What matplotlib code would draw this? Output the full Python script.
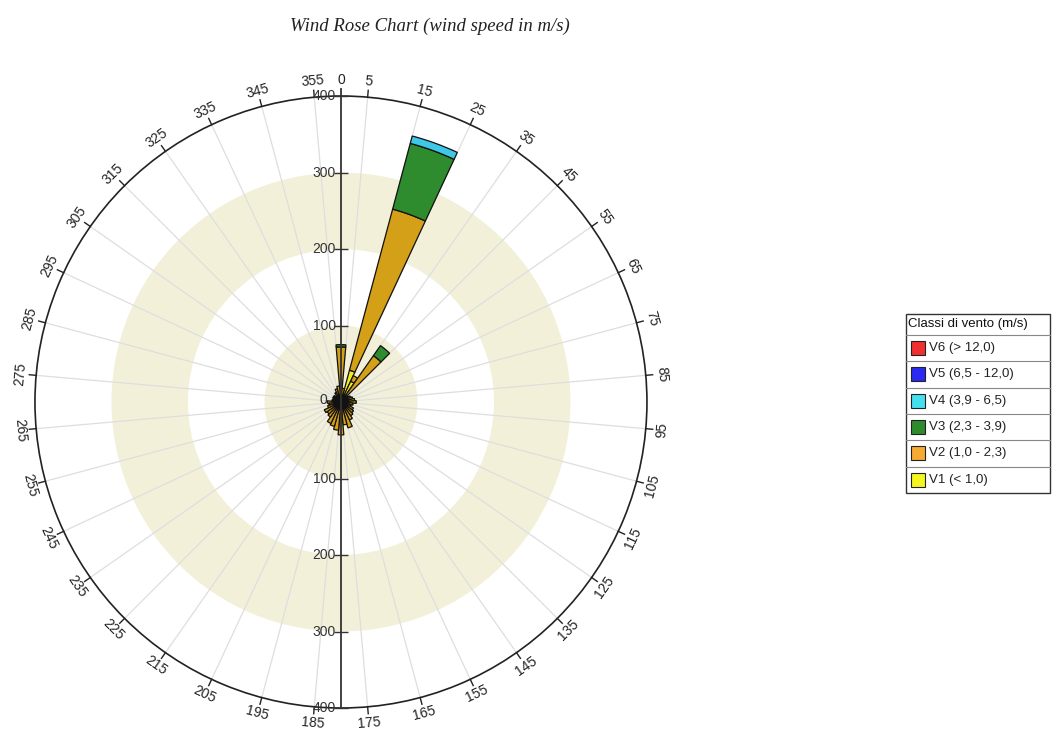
import numpy as np
import matplotlib
matplotlib.use("Agg")
import matplotlib.pyplot as plt
from matplotlib.patches import Rectangle
from matplotlib.transforms import offset_copy

# direction sectors (deg, clockwise from north), 10 deg wide
directions = list(range(0, 360, 10))

# frequency per speed class, one value per direction
v1 = [8, 6, 43, 30, 8, 4, 4, 4, 4, 4, 4, 4, 4, 4, 4, 4, 5, 5,
      5, 5, 5, 5, 4, 4, 4, 4, 4, 4, 4, 4, 4, 4, 4, 4, 4, 5]
v2 = [64, 12, 218, 8, 66, 8, 10, 12, 14, 16, 12, 10, 14, 16, 18, 22, 30, 25,
      38, 32, 28, 26, 20, 18, 20, 14, 12, 14, 8, 6, 8, 8, 6, 10, 14, 16]
v3 = [3, 0, 89, 0, 16, 0, 0, 0, 0, 0, 0, 0, 0, 0, 0, 0, 0, 0,
      0, 0, 0, 0, 0, 0, 0, 0, 0, 0, 0, 0, 0, 0, 0, 0, 0, 0]
v4 = [0, 0, 10, 0, 0, 0, 0, 0, 0, 0, 0, 0, 0, 0, 0, 0, 0, 0,
      0, 0, 0, 0, 0, 0, 0, 0, 0, 0, 0, 0, 0, 0, 0, 0, 0, 0]
v5 = [0] * 36
v6 = [0] * 36

series = [v1, v2, v3, v4, v5, v6]
bar_colors = ["#f2ee1e", "#d4a017", "#2e8b2e", "#3cc8e6", "#2828f0", "#f02828"]

legend_title = "Classi di vento (m/s)"
legend_labels = ["V6 (> 12,0)", "V5 (6,5 - 12,0)", "V4 (3,9 - 6,5)",
                 "V3 (2,3 - 3,9)", "V2 (1,0 - 2,3)", "V1 (< 1,0)"]
legend_colors = ["#f03030", "#2a2af2", "#44e0ee", "#2e8b2e", "#f5aa32", "#f5f520"]

radial_ticks = [100, 200, 300, 400]
angle_labels = [0] + list(range(5, 360, 10))

plt.rcParams["font.family"] = ["Liberation Sans", "DejaVu Sans"]

fig = plt.figure(figsize=(10.53, 7.29), dpi=100)
ax = fig.add_axes([0.0332, 0.0288, 0.5812, 0.8395], projection="polar")
ax.set_theta_zero_location("N")
ax.set_theta_direction(-1)
ax.set_ylim(0, 400)
ax.grid(False)
ax.set_xticks([])
ax.set_yticks([])
ax.spines["polar"].set_color("#222222")
ax.spines["polar"].set_linewidth(1.2)

# background bands
for b in [0, 200]:
    ax.bar(0, 100, width=2 * np.pi, bottom=b, color="#f3f0da", edgecolor="none", zorder=0)

# spokes and outer tick marks
for a in range(5, 360, 10):
    t = np.deg2rad(a)
    ax.plot([t, t], [0, 400], color="#dedede", lw=0.9, zorder=1)
    ax.plot([t, t], [400, 409], color="#222222", lw=1.0, zorder=3, clip_on=False)

# stacked bars
theta = np.deg2rad(directions)
width = np.deg2rad(10)
bottom = np.zeros(len(directions))
for vals, col in zip(series, bar_colors):
    vals = np.array(vals, dtype=float)
    mask = vals > 0
    ax.bar(theta[mask], vals[mask], width=width, bottom=bottom[mask], color=col,
           edgecolor="#111111", linewidth=0.9, zorder=4)
    bottom += vals

# vertical axis line
ax.plot([0, 0], [0, 409], color="#333333", lw=1.3, zorder=5, clip_on=False)
ax.plot([np.pi, np.pi], [0, 400], color="#333333", lw=1.3, zorder=5)
for r in radial_ticks:
    for t in [0, np.pi]:
        ax.plot(t, r, marker="_", markersize=10, color="#333333", mew=1.0, zorder=5, clip_on=False)

trans = offset_copy(ax.transData, fig=fig, x=-5, y=0, units="dots")
for r in radial_ticks:
    for t in [0, np.pi]:
        ax.text(t, r, str(r), transform=trans, ha="right", va="center",
                fontsize=10, color="#333333", zorder=6, clip_on=False)
ax.text(0, 0, "0", transform=offset_copy(ax.transData, fig=fig, x=-14, y=2, units="dots"),
        ha="right", va="center", fontsize=10, color="#333333", zorder=6)

# angle labels, tangential
for a in angle_labels:
    rot = 180 - a if 90 < a < 270 else -a
    ax.text(np.deg2rad(a), 421, str(a), rotation=rot, rotation_mode="anchor",
            ha="center", va="center", fontsize=10, color="#222222", clip_on=False)

fig.text(430 / 1053, 1 - 26 / 729, "Wind Rose Chart (wind speed in m/s)",
         ha="center", va="center", fontsize=13.5, style="italic",
         family=["Liberation Serif", "DejaVu Serif"], color="#222222")

# legend drawn as a small table
lax = fig.add_axes([905 / 1053, 1 - 493 / 729, 146 / 1053, 180 / 729])
lax.set_xlim(0, 146)
lax.set_ylim(180, 0)
lax.axis("off")
lax.add_patch(Rectangle((0.5, 0.5), 144.5, 179, fill=False, edgecolor="#333333",
                        lw=1.0, clip_on=False))
lax.text(3, 11, legend_title, ha="left", va="center", fontsize=9.5, color="#111111")
row_h = 26.3
top = 22
for i, (lab, col) in enumerate(zip(legend_labels, legend_colors)):
    y0 = top + i * row_h
    lax.plot([0.5, 145], [y0, y0], color="#888888", lw=0.8)
    lax.add_patch(Rectangle((6, y0 + row_h / 2 - 7), 14, 14, facecolor=col,
                            edgecolor="#222222", lw=0.8))
    lax.text(24, y0 + row_h / 2, lab, ha="left", va="center", fontsize=9.5, color="#222222")

fig.savefig("out.png", dpi=100)
